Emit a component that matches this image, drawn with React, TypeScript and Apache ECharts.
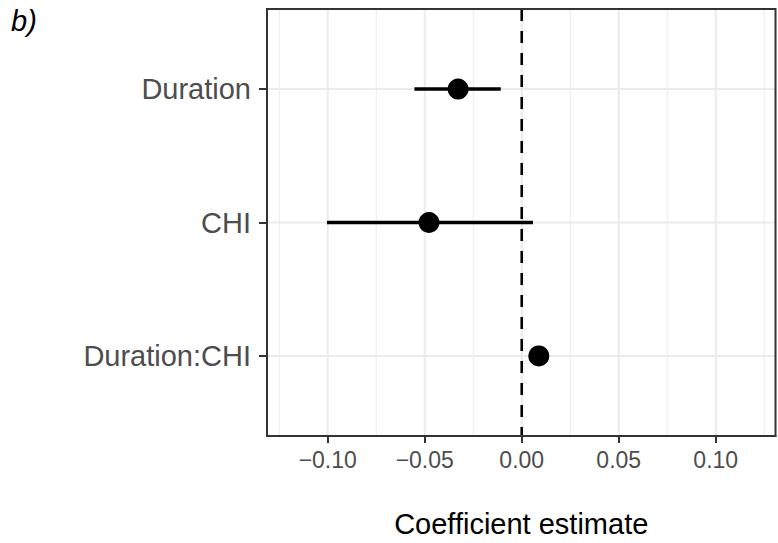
import React, { useEffect, useRef } from "react";
import * as echarts from "echarts";

const categories = ["Duration", "CHI", "Duration:CHI"];
const estimates = [-0.0328, -0.0478, 0.0088];
const lowerCI = [-0.0553, -0.1004, 0.0066];
const upperCI = [-0.0108, 0.0058, 0.011];
const xTickValues = [-0.1, -0.05, 0, 0.05, 0.1];
const xMinorValues = [-0.125, -0.075, -0.025, 0.025, 0.075, 0.125];
const yPositions = [1, 2, 3];

const FONT = "Liberation Sans, Arial, Helvetica, sans-serif";

export default function App() {
  const ref = useRef<HTMLDivElement>(null);
  useEffect(() => {
    if (!ref.current) return;
    const chart = echarts.init(ref.current, null, { renderer: "svg" });

    const vLine = (color: string, width: number, dash?: number[]) => (params: any, api: any) => {
      const cs = params.coordSys;
      const x = api.coord([api.value(0), 1])[0];
      return {
        type: "line",
        shape: { x1: x, y1: cs.y, x2: x, y2: cs.y + cs.height },
        style: { stroke: color, lineWidth: width, lineDash: dash || null },
      };
    };

    const option: any = {
      animation: false,
      backgroundColor: "#ffffff",
      textStyle: { fontFamily: FONT },
      grid: {
        left: 267,
        right: 2.5,
        top: 9,
        bottom: 104,
        show: true,
        z: 10,
        backgroundColor: "transparent",
        borderColor: "#333333",
        borderWidth: 2,
      },
      xAxis: {
        type: "value",
        min: -0.1313,
        max: 0.1308,
        axisLine: { show: true, onZero: false, lineStyle: { color: "#333333", width: 2 } },
        splitLine: { show: false },
        axisTick: {
          show: true,
          customValues: xTickValues,
          length: 7,
          lineStyle: { color: "#333333", width: 2 },
        },
        axisLabel: {
          customValues: xTickValues,
          color: "#4D4D4D",
          fontSize: 23,
          fontFamily: FONT,
          margin: 12,
          formatter: (v: number) => {
            const s = Math.abs(v).toFixed(2);
            return v < 0 ? "\u2212" + s : s;
          },
        },
        name: "Coefficient estimate",
        nameLocation: "middle",
        nameGap: 73,
        nameTextStyle: { color: "#000000", fontSize: 29, fontFamily: FONT },
      },
      yAxis: {
        type: "value",
        min: 0.4,
        max: 3.6,
        inverse: true,
        axisLine: { show: true, onZero: false, lineStyle: { color: "#333333", width: 2 } },
        splitLine: { show: false },
        axisTick: {
          show: true,
          customValues: yPositions,
          length: 8,
          lineStyle: { color: "#333333", width: 2 },
        },
        axisLabel: {
          customValues: yPositions,
          color: "#4D4D4D",
          fontSize: 29,
          fontFamily: FONT,
          margin: 16,
          formatter: (v: number) => categories[Math.round(v) - 1] || "",
        },
      },
      graphic: [
        {
          type: "text",
          left: 11,
          top: 6,
          style: { text: "b)", fontSize: 29, fontStyle: "italic", fontFamily: FONT, fill: "#000000" },
        },
      ],
      series: [
        {
          type: "custom",
          z: 1,
          silent: true,
          renderItem: vLine("#EBEBEB", 1),
          data: xMinorValues.map((v) => [v, 1]),
        },
        {
          type: "custom",
          z: 1,
          silent: true,
          renderItem: vLine("#EBEBEB", 2),
          data: xTickValues.map((v) => [v, 1]),
        },
        {
          type: "custom",
          z: 1,
          silent: true,
          renderItem: (params: any, api: any) => {
            const cs = params.coordSys;
            const y = api.coord([0, api.value(1)])[1];
            return {
              type: "line",
              shape: { x1: cs.x, y1: y, x2: cs.x + cs.width, y2: y },
              style: { stroke: "#EBEBEB", lineWidth: 2 },
            };
          },
          data: yPositions.map((p) => [0, p]),
        },
        {
          type: "custom",
          z: 2,
          silent: true,
          renderItem: vLine("#000000", 2.6, [12, 10]),
          data: [[0, 1]],
        },
        {
          type: "custom",
          z: 3,
          silent: true,
          renderItem: (params: any, api: any) => {
            const y = api.value(2);
            const p1 = api.coord([api.value(0), y]);
            const p2 = api.coord([api.value(1), y]);
            return {
              type: "line",
              shape: { x1: p1[0], y1: p1[1], x2: p2[0], y2: p2[1] },
              style: { stroke: "#000000", lineWidth: 3.4, lineCap: "butt" },
            };
          },
          encode: { x: [0, 1], y: 2 },
          data: categories.map((_, i) => [lowerCI[i], upperCI[i], yPositions[i]]),
        },
        {
          type: "scatter",
          z: 4,
          silent: true,
          symbol: "circle",
          symbolSize: 21,
          itemStyle: { color: "#000000", opacity: 1 },
          data: categories.map((_, i) => [estimates[i], yPositions[i]]),
        },
      ],
    };
    chart.setOption(option);
    return () => chart.dispose();
  }, []);
  return (
    <div
      ref={ref}
      style={{ position: "fixed", left: 0, top: 0, width: 778, height: 543, background: "#fff" }}
    />
  );
}
